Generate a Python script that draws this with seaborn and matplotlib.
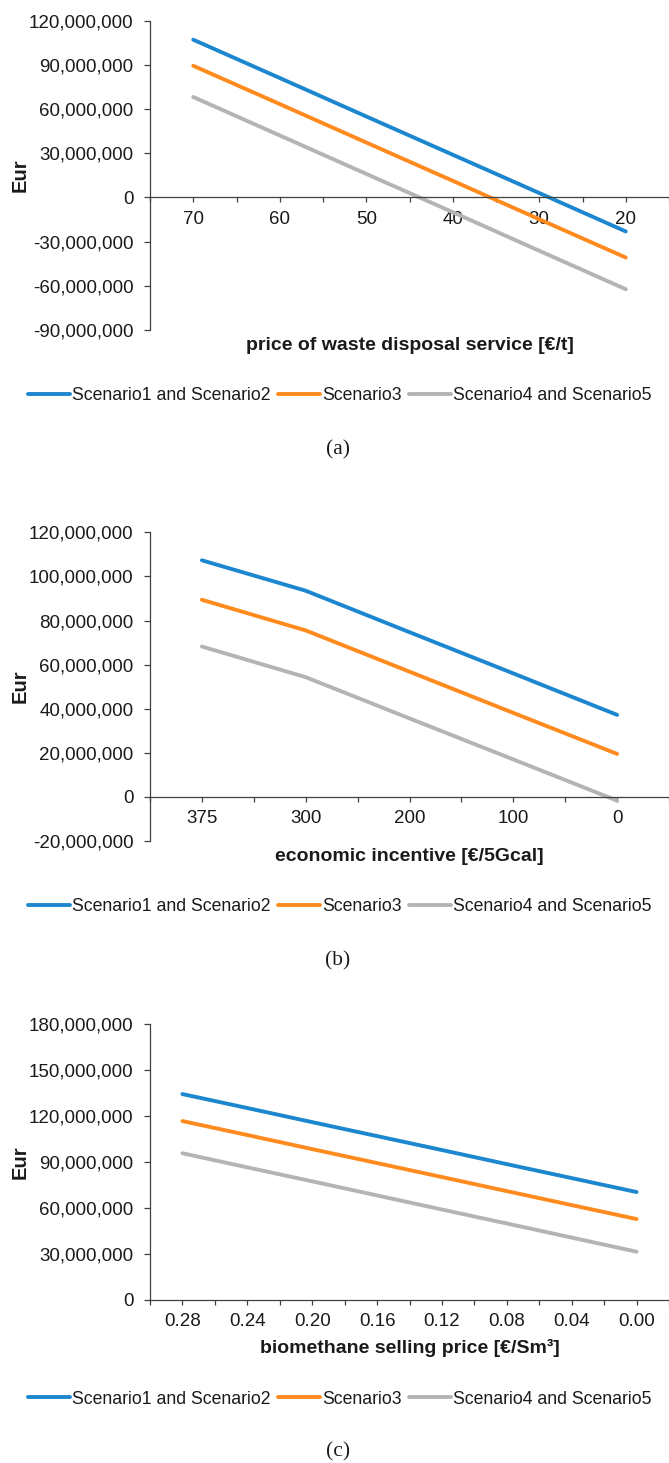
import numpy as np
import pandas as pd
import matplotlib
matplotlib.use('Agg')
import matplotlib.pyplot as plt
import matplotlib.ticker as mticker
import seaborn as sns

# data, values in million Eur
scenarios = ['Scenario1 and Scenario2', 'Scenario3', 'Scenario4 and Scenario5']
colors = ['#1C87CF', '#FF8A1E', '#B4B4B4']

waste_price = ['70', '60', '50', '40', '30', '20']
waste_s12 = [107.1, 81.1, 55.0, 29.0, 3.0, -23.1]
waste_s3 = [89.4, 63.4, 37.3, 11.3, -14.8, -40.8]
waste_s45 = [68.2, 42.1, 16.0, -10.0, -36.2, -62.3]

incentive = ['375', '300', '200', '100', '0']
inc_s12 = [107.3, 93.5, 74.7, 56.0, 37.2]
inc_s3 = [89.4, 75.5, 56.8, 38.1, 19.5]
inc_s45 = [68.2, 54.3, 35.6, 17.0, -1.7]

biomethane = ['0.28', '0.24', '0.20', '0.16', '0.12', '0.08', '0.04', '0.00']
bio_s12 = [134.3, 125.2, 116.0, 106.9, 97.8, 88.6, 79.5, 70.4]
bio_s3 = [116.7, 107.6, 98.4, 89.3, 80.2, 71.0, 61.9, 52.8]
bio_s45 = [95.7, 86.5, 77.4, 68.2, 59.0, 49.9, 40.7, 31.5]

sns.set_theme(style='white')
plt.rcParams['font.family'] = ['Liberation Sans', 'DejaVu Sans']
plt.rcParams['text.color'] = '#1a1a1a'
plt.rcParams['axes.labelcolor'] = '#1a1a1a'
plt.rcParams['xtick.color'] = '#404040'
plt.rcParams['ytick.color'] = '#404040'
plt.rcParams['xtick.labelcolor'] = '#1a1a1a'
plt.rcParams['ytick.labelcolor'] = '#1a1a1a'

W, H = 669, 1463
fig = plt.figure(figsize=(W / 100, H / 100), dpi=100)


def make_frame(cats, s12, s3, s45):
    rows = []
    for name, vals in zip(scenarios, [s12, s3, s45]):
        for i, v in enumerate(vals):
            rows.append({'pos': i, 'value': v * 1e6, 'scenario': name})
    return pd.DataFrame(rows)


def draw_panel(top_px, bottom_px, cats, s12, s3, s45, ymin, ymax, ystep,
               xlabel, xlabel_px, legend_px, caption, caption_px):
    left_px, right_px = 150, 669
    ax = fig.add_axes([left_px / W, 1 - bottom_px / H,
                       (right_px - left_px) / W, (bottom_px - top_px) / H])
    df = make_frame(cats, s12, s3, s45)
    sns.lineplot(data=df, x='pos', y='value', hue='scenario', hue_order=scenarios,
                 palette=colors, linewidth=2.8, ax=ax, legend=True)

    n = len(cats)
    ax.set_xlim(-0.5, n - 0.5)
    ax.set_ylim(ymin, ymax)
    ax.set_yticks(np.arange(ymin, ymax + 1, ystep))
    ax.yaxis.set_major_formatter(mticker.FuncFormatter(lambda v, p: f'{int(round(v)):,}'))
    ax.set_xticks(np.arange(n))
    ax.set_xticklabels(cats)
    ax.xaxis.set_minor_locator(mticker.FixedLocator(np.arange(n + 1) - 0.5))

    for side in ['top', 'right']:
        ax.spines[side].set_visible(False)
    for side in ['left', 'bottom']:
        ax.spines[side].set_color('#404040')
        ax.spines[side].set_linewidth(0.9)
    ax.spines['bottom'].set_position(('data', 0))

    ax.tick_params(axis='y', which='major', direction='out', length=4, width=0.9,
                   labelsize=13.5, pad=8, left=True)
    ax.tick_params(axis='x', which='both', direction='out', length=3.5, width=0.9,
                   bottom=True)
    ax.tick_params(axis='x', which='major', labelsize=13.5, pad=6)

    ax.set_ylabel('Eur', fontsize=14.5, fontweight='bold', va='center')
    ax.yaxis.set_label_coords((20.5 - left_px) / (right_px - left_px), 0.5)
    ax.set_xlabel(xlabel, fontsize=14, fontweight='bold', va='center')
    ax.xaxis.set_label_coords(0.5, (bottom_px - xlabel_px) / (bottom_px - top_px))

    handles, labels = ax.get_legend_handles_labels()
    ax.legend(handles, labels, loc='center left',
              bbox_to_anchor=(28 / W, 1 - legend_px / H), bbox_transform=fig.transFigure,
              ncol=3, frameon=False, fontsize=12.7, handlelength=2.4,
              handletextpad=0.12, columnspacing=0.4, borderpad=0, borderaxespad=0)

    fig.text(338 / W, 1 - caption_px / H, caption, ha='center', va='center',
             fontsize=15.5, family=['Liberation Serif', 'DejaVu Serif'])
    return ax


draw_panel(20.7, 330, waste_price, waste_s12, waste_s3, waste_s45,
           -90e6, 120e6, 30e6, 'price of waste disposal service [€/t]', 345, 396, '(a)', 450)
draw_panel(532.3, 841, incentive, inc_s12, inc_s3, inc_s45,
           -20e6, 120e6, 20e6, 'economic incentive [€/5Gcal]', 856.7, 906.7, '(b)', 961)
draw_panel(1024, 1300, biomethane, bio_s12, bio_s3, bio_s45,
           0, 180e6, 30e6, 'biomethane selling price [€/Sm³]', 1348, 1399, '(c)', 1451.7)

fig.savefig('out.png', dpi=100)
